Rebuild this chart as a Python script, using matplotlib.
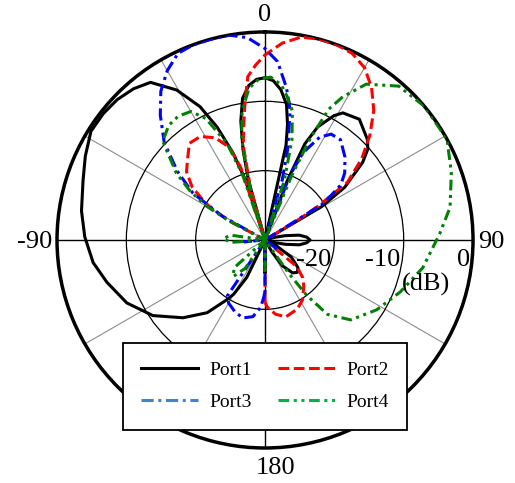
import numpy as np
import matplotlib
matplotlib.use('Agg')
import matplotlib.pyplot as plt
from matplotlib.lines import Line2D

plt.rcParams['font.family'] = ['Liberation Serif', 'DejaVu Serif']

# angle (deg, 0 = top, clockwise) and gain (dB), -30 dB = centre
ang1 = [-180, -172, -160, -154, -150, -147.5, -141.5, -133.5, -124, -114.5, -105, -97.5,
        -89, -81, -72, -65, -58, -52, -46.5, -41, -36, -30.5, -26, -23, -20.2, -18, -16.8,
        -15.5, -13.7, -11.5, -9, -6, -3, 0, 3, 6, 9, 11, 12.5, 14, 19, 20.5, 22.5, 25, 29,
        31.5, 38, 45.5, 48.5, 51.5, 56.5, 59.5, 60.5, 72, 75, 78, 82, 86, 90, 94, 98, 102,
        105, 108, 115, 118, 123, 130, 135, 140, 146, 150, 153, 172, 180]
port1 = [-25.4, -30, -30, -24, -21, -19.8, -16.6, -13.7, -10.5, -8.1, -6.4, -5.0, -4.0,
         -3.2, -2.4, -1.4, -0.4, -0.4, -0.6, -1.1, -1.9, -4.9, -8.6, -12.3, -16.6, -21, -30,
         -21, -16.6, -12.5, -9.3, -7.6, -6.8, -6.6, -7, -8.2, -10.2, -13, -16, -30, -30,
         -21, -15, -12, -9.5, -8.5, -7.9, -9.3, -10.2, -12, -16.2, -20.5, -30, -30, -28.5,
         -27, -25, -24, -23.5, -24, -25, -27, -28.5, -30, -30, -28, -25.5, -23.8, -23.4,
         -23.8, -25.5, -28, -30, -30, -25.4]

ang2 = [-180, -178, -65, -62, -59.5, -57.5, -54, -49, -44, -38, -32, -26, -21, -18.5,
        -17, -15.5, -13, -10, -8, -6, -3, 0, 5, 10, 15, 20, 25, 30, 35, 40, 45, 50, 55,
        57.5, 59, 60.5, 127, 130, 135, 140, 148, 155, 165, 172, 178, 180]
port2 = [-21, -30, -30, -24.5, -21, -19.5, -17, -15, -13.9, -12.3, -12.4, -13.6, -15.7,
         -19, -30, -22, -16, -12.5, -9.5, -6.3, -4.7, -3.3, -1.5, -0.3, 0, 0, -0.3, -1.3,
         -3.2, -5.6, -8.6, -11.8, -15.5, -21, -25, -30, -30, -24, -22.3, -21.3, -19.8, -19,
         -18.5, -19.2, -20.3, -21]

ang3 = [-180, -178, -176, -171, -164, -157, -150, -146, -143, -100, -95, -90, -63, -61,
        -57, -52, -46, -40, -35, -30, -25, -20, -15, -10, -5, 0, 4, 8, 11, 14, 16, 17.5,
        19, 21, 23.5, 28, 32, 37, 44, 50, 54, 58, 59.5, 120, 127, 134, 177, 180]
port3 = [-22.5, -21.3, -20.2, -18.8, -18.3, -18.8, -19.5, -20.3, -30, -30, -27, -30, -30,
         -23, -17.6, -14, -9.8, -6.5, -3.8, -1.8, -0.3, 0, 0, 0, -0.7, -2.4, -4.2, -7.8, -11,
         -16.5, -21, -30, -30, -20, -16.3, -13.2, -12, -11.9, -13.4, -15, -16.5, -20, -30,
         -30, -28, -30, -30, -22.5]

ang4 = [-180, -174, -150, -145, -139, -132, -125, -97, -94, -88, -82, -78, -65, -62, -60,
        -57, -53, -46, -40, -35, -30, -26, -21.5, -19, -17.5, -16, -13, -10, -6, -2, 2, 6,
        9, 12, 15, 18, 19.5, 21, 22.5, 24, 26, 28.5, 33, 41, 50, 61, 70, 80, 88, 100, 111,
        122, 133, 140, 143, 144.5, 146, 174, 180]
port4 = [-25.5, -30, -30, -25, -23, -24, -30, -30, -25, -24, -25, -30, -30, -24, -20.3,
         -17.2, -14, -9.5, -8.4, -8.2, -8.6, -10.5, -15, -20, -30, -22, -15, -11, -8, -6.7,
         -6.5, -7.5, -9.2, -11, -15, -21, -30, -30, -20, -14, -9, -6.5, -3.2, -0.6, 0, 0,
         -1.4, -2.9, -4.8, -6.9, -9.1, -11, -13.1, -16, -20, -24, -30, -30, -25.5]

names = ['Port1', 'Port2', 'Port3', 'Port4']
colors = ['black', 'red', 'blue', 'green']
legend_colors = ['black', 'red', '#4a7fc0', '#00b050']
dashes = ['-', (0, (3.5, 1.5)), (0, (4, 1.5, 1, 1.5)), (0, (3.5, 1.5, 1, 1.5, 1, 1.5))]

fig = plt.figure(figsize=(5.15, 4.83), dpi=100)
ax = fig.add_axes([0.1107, 0.0725, 0.8078, 0.8613], projection='polar')
ax.set_theta_zero_location('N')
ax.set_theta_direction(-1)
ax.set_ylim(-30, 0)

series = [(ang1, port1), (ang2, port2), (ang3, port3), (ang4, port4)]
for (a, vals), c, ls in zip(series, colors, dashes):
    ax.plot(np.deg2rad(a), vals, color=c, linestyle=ls, lw=2.2, zorder=3)

# grid
ax.set_thetagrids(range(0, 360, 30), labels=[])
ax.set_rgrids([-20, -10], labels=[])
for i, gl in enumerate(ax.xaxis.get_gridlines()):
    if i % 3 == 0:
        gl.set_color('black')
        gl.set_linewidth(1.0)
    else:
        gl.set_color('#8c8c8c')
        gl.set_linewidth(0.8)
    gl.set_linestyle('-')
for gl in ax.yaxis.get_gridlines():
    gl.set_color('black')
    gl.set_linewidth(0.9)
    gl.set_linestyle('-')
ax.spines['polar'].set_linewidth(2.5)
ax.tick_params(length=0)

fs = 19
ax.text(0.5, 1.041, '0', transform=ax.transAxes, ha='center', va='center', fontsize=fs)
ax.text(1.043, 0.495, '90', transform=ax.transAxes, ha='center', va='center', fontsize=fs)
ax.text(-0.053, 0.495, '-90', transform=ax.transAxes, ha='center', va='center', fontsize=fs)
ax.text(0.524, -0.048, '180', transform=ax.transAxes, ha='center', va='center', fontsize=fs)
for rv, lab in zip([-20, -10, 0], ['-20', '-10', '0']):
    ax.annotate(lab, xy=(np.pi / 2, rv), xytext=(-3, -20), textcoords='offset pixels',
                ha='right', va='center', fontsize=fs, annotation_clip=False)
ax.text(0.887, 0.392, '(dB)', transform=ax.transAxes, ha='center', va='center', fontsize=fs)

handles = [Line2D([], [], color=legend_colors[i], linestyle=dashes[i], lw=2.2)
           for i in range(4)]
order = [0, 2, 1, 3]
leg = ax.legend([handles[i] for i in order], [names[i] for i in order], ncol=2,
                loc='center', bbox_to_anchor=(0.5146, 0.1998), bbox_transform=fig.transFigure,
                fontsize=14, handlelength=2.9, handletextpad=0.6, columnspacing=1.35,
                labelspacing=0.74, borderpad=0.96, fancybox=False, framealpha=1,
                edgecolor='black')
leg.get_frame().set_linewidth(1.3)
leg.set_zorder(10)

fig.savefig('out.png', dpi=100)
